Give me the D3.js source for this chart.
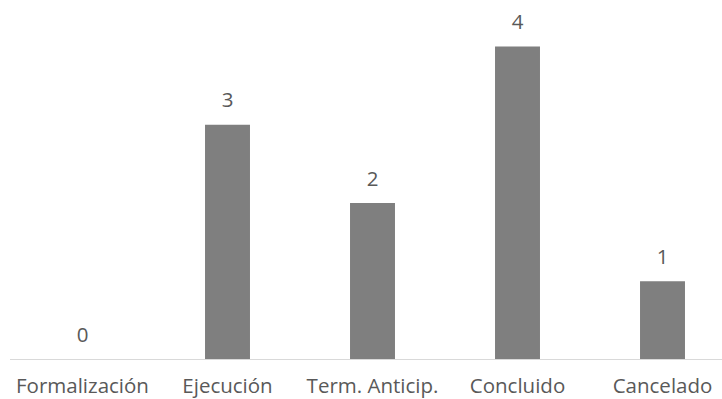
<!DOCTYPE html>
<html>
<head>
<meta charset="utf-8">
<script src="https://cdn.jsdelivr.net/npm/d3@7"></script>
<style>
  body { margin: 0; background: #fff; }
  svg text { font-family: "Open Sans", sans-serif; fill: #595959; }
</style>
</head>
<body>
<svg id="chart"></svg>
<script>
const width = 722;
const height = 399;

// data
const categories = ["Formalización", "Ejecución", "Term. Anticip.", "Concluido", "Cancelado"];
const values = [0, 3, 2, 4, 1];

const svg = d3.select("#chart")
  .attr("width", width)
  .attr("height", height);

const x = d3.scaleBand()
  .domain(categories)
  .range([10, 735])
  .paddingInner(0.69)
  .paddingOuter(0.345);

const y = d3.scaleLinear()
  .domain([0, 4])
  .range([359.5, 46.5]);

// bars
svg.append("g")
  .selectAll("rect")
  .data(values)
  .enter().append("rect")
  .attr("x", (d, i) => x(categories[i]))
  .attr("y", d => y(d))
  .attr("width", x.bandwidth())
  .attr("height", d => y(0) - y(d))
  .attr("fill", "#7f7f7f");

// baseline
svg.append("line")
  .attr("x1", 10).attr("x2", width)
  .attr("y1", y(0)).attr("y2", y(0))
  .attr("stroke", "#d9d9d9")
  .attr("stroke-width", 1);

// value labels
svg.append("g")
  .selectAll("text")
  .data(values)
  .enter().append("text")
  .attr("x", (d, i) => x(categories[i]) + x.bandwidth() / 2)
  .attr("y", d => y(d) - 17.5)
  .attr("text-anchor", "middle")
  .style("font-size", "20.5px")
  .text(d => d);

// category labels
svg.append("g")
  .selectAll("text")
  .data(categories)
  .enter().append("text")
  .attr("x", d => x(d) + x.bandwidth() / 2)
  .attr("y", 393)
  .attr("text-anchor", "middle")
  .style("font-size", "20.5px")
  .text(d => d);
</script>
</body>
</html>
